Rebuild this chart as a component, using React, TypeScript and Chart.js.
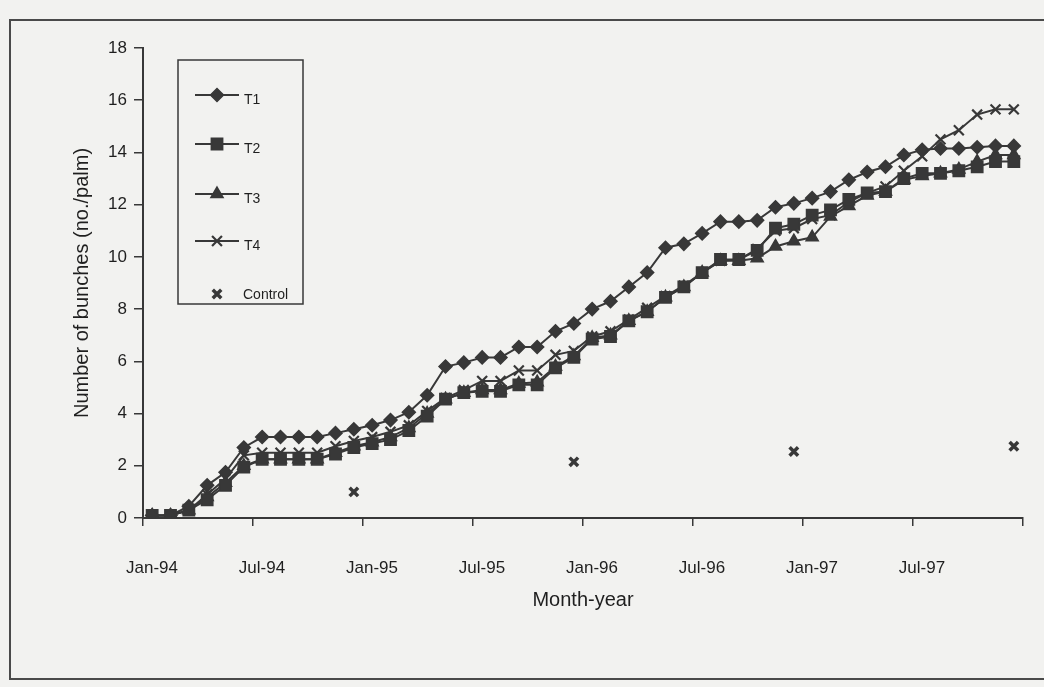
import React, { useEffect, useRef } from 'react';
import { Chart, registerables } from 'chart.js';
import { drawPoint } from 'chart.js/helpers';

Chart.register(...registerables);

// ---- data ----
const years = ['94', '95', '96', '97'];
const monthNames = ['Jan', 'Feb', 'Mar', 'Apr', 'May', 'Jun', 'Jul', 'Aug', 'Sep', 'Oct', 'Nov', 'Dec'];
const months: string[] = years.flatMap((y) => monthNames.map((m) => `${m}-${y}`));

const tickLabels = ['Jan-94', 'Jul-94', 'Jan-95', 'Jul-95', 'Jan-96', 'Jul-96', 'Jan-97', 'Jul-97', ''];

const t1 = [0.1, 0.1, 0.45, 1.25, 1.75, 2.7, 3.1, 3.1, 3.1, 3.1,
  3.25, 3.4, 3.55, 3.75, 4.05, 4.7, 5.8, 5.95, 6.15, 6.15,
  6.55, 6.55, 7.15, 7.45, 8.0, 8.3, 8.85, 9.4, 10.35, 10.5,
  10.9, 11.35, 11.35, 11.4, 11.9, 12.05, 12.25, 12.5, 12.95, 13.25,
  13.45, 13.9, 14.1, 14.15, 14.15, 14.2, 14.25, 14.25];

const t2 = [0.1, 0.1, 0.3, 0.7, 1.25, 1.95, 2.25, 2.25, 2.25, 2.25,
  2.45, 2.7, 2.85, 3.0, 3.35, 3.9, 4.55, 4.8, 4.85, 4.85,
  5.1, 5.1, 5.75, 6.15, 6.85, 6.95, 7.55, 7.9, 8.45, 8.85,
  9.4, 9.9, 9.9, 10.25, 11.1, 11.25, 11.6, 11.8, 12.2, 12.45,
  12.5, 13.0, 13.2, 13.2, 13.3, 13.45, 13.65, 13.65];

const t3 = [0.1, 0.1, 0.3, 0.8, 1.35, 2.0, 2.25, 2.25, 2.25, 2.25,
  2.5, 2.75, 2.9, 3.1, 3.45, 4.0, 4.55, 4.8, 4.9, 4.9,
  5.15, 5.2, 5.8, 6.2, 6.9, 7.0, 7.55, 7.9, 8.45, 8.85,
  9.4, 9.85, 9.85, 9.95, 10.4, 10.6, 10.75, 11.55, 11.95, 12.35,
  12.5, 12.95, 13.1, 13.2, 13.35, 13.65, 13.9, 13.9];

const t4 = [0.1, 0.1, 0.3, 0.9, 1.5, 2.4, 2.5, 2.5, 2.5, 2.5,
  2.75, 2.95, 3.1, 3.3, 3.55, 4.1, 4.6, 4.9, 5.25, 5.25,
  5.65, 5.65, 6.25, 6.4, 6.95, 7.15, 7.6, 8.05, 8.5, 8.9,
  9.4, 9.85, 9.9, 10.3, 11.0, 11.1, 11.45, 11.6, 12.1, 12.45,
  12.7, 13.3, 13.85, 14.5, 14.85, 15.45, 15.65, 15.65];

const controlMonths = ['Dec-94', 'Dec-95', 'Dec-96', 'Dec-97'];
const control = [1.0, 2.15, 2.55, 2.75];

const seriesNames = ['T1', 'T2', 'T3', 'T4', 'Control'];

// ---- helpers ----
const INK = '#383838';
const TEXT = '#1f1f1f';
const FONT = '"Liberation Sans", Arial, sans-serif';

const toPoints = (vals: number[]) => vals.map((v, i) => ({ x: i + 0.5, y: v }));

const legendPlugin = {
  id: 'boxLegend',
  afterDraw(chart: any) {
    const ctx = chart.ctx as CanvasRenderingContext2D;
    const { left, top } = chart.chartArea;
    const bx = left + 35;
    const by = top + 12;
    const bw = 125;
    const bh = 244;
    const rows = [35, 84, 134, 181, 234];
    ctx.save();
    ctx.strokeStyle = INK;
    ctx.lineWidth = 1.5;
    ctx.strokeRect(bx, by, bw, bh);
    chart.data.datasets.forEach((ds: any, i: number) => {
      const y = by + rows[i];
      const cx = bx + 39;
      if (ds.showLine !== false) {
        ctx.beginPath();
        ctx.strokeStyle = ds.borderColor;
        ctx.lineWidth = ds.borderWidth;
        ctx.moveTo(bx + 17, y);
        ctx.lineTo(bx + 61, y);
        ctx.stroke();
      }
      ctx.fillStyle = ds.pointBackgroundColor;
      ctx.strokeStyle = ds.pointBorderColor;
      ctx.lineWidth = ds.pointBorderWidth;
      drawPoint(ctx, { pointStyle: ds.pointStyle, radius: ds.pointRadius, borderWidth: ds.pointBorderWidth, rotation: 0 } as any, cx, y);
      ctx.fillStyle = TEXT;
      ctx.font = `14px ${FONT}`;
      ctx.textBaseline = 'middle';
      ctx.textAlign = 'left';
      const ty = ds.showLine !== false ? y + 5 : y + 1;
      ctx.fillText(ds.label, ds.showLine !== false ? bx + 66 : bx + 65, ty);
    });
    ctx.restore();
  },
};

export default function App() {
  const ref = useRef<HTMLCanvasElement | null>(null);

  useEffect(() => {
    if (!ref.current) return;
    const lineDs = (label: string, vals: number[], style: string, radius: number, pbw: number) => ({
      label,
      data: toPoints(vals),
      borderColor: INK,
      backgroundColor: INK,
      borderWidth: 2,
      pointStyle: style,
      pointRadius: radius,
      pointBackgroundColor: INK,
      pointBorderColor: INK,
      pointBorderWidth: pbw,
      showLine: true,
      tension: 0,
    });
    const chart = new Chart(ref.current, {
      type: 'scatter',
      data: {
        datasets: [
          lineDs(seriesNames[0], t1, 'rectRot', 6.5, 1.5),
          lineDs(seriesNames[1], t2, 'rect', 8, 1.5),
          lineDs(seriesNames[2], t3, 'triangle', 7, 1.5),
          lineDs(seriesNames[3], t4, 'crossRot', 7, 2.2),
          {
            label: seriesNames[4],
            data: controlMonths.map((m, k) => ({ x: months.indexOf(m) + 0.5, y: control[k] })),
            showLine: false,
            borderColor: INK,
            backgroundColor: INK,
            pointStyle: 'crossRot',
            pointRadius: 6,
            pointBackgroundColor: INK,
            pointBorderColor: INK,
            pointBorderWidth: 3.5,
          } as any,
        ],
      },
      options: {
        animation: false,
        responsive: false,
        layout: { padding: { top: 48, right: 21, left: 0, bottom: 0 } },
        plugins: { legend: { display: false }, tooltip: { enabled: false } },
        scales: {
          x: {
            type: 'linear',
            min: 0,
            max: 48,
            afterFit: (s: any) => { s.height = 169; s.paddingRight = 0; s.paddingLeft = 0; },
            afterBuildTicks: (s: any) => {
              s.ticks = tickLabels.map((_, k) => ({ value: k * 6 }));
            },
            ticks: {
              callback: (v: any) => tickLabels[Math.round(Number(v) / 6)] ?? '',
              font: { family: FONT, size: 17 },
              color: TEXT,
              padding: 32,
              labelOffset: 9,
              maxRotation: 0,
              autoSkip: false,
            },
            grid: { drawOnChartArea: false, drawTicks: true, tickLength: 8, color: INK, lineWidth: 1.5 },
            border: { color: INK, width: 2 },
            title: {
              display: true,
              text: 'Month-year',
              font: { family: FONT, size: 20 },
              color: TEXT,
              padding: { top: 0, bottom: 75 },
            },
          },
          y: {
            min: 0,
            max: 18,
            afterFit: (s: any) => { s.width = 143; },
            ticks: {
              stepSize: 2,
              font: { family: FONT, size: 17 },
              color: TEXT,
              padding: 7,
            },
            grid: { drawOnChartArea: false, drawTicks: true, tickLength: 9, color: INK, lineWidth: 1.5 },
            border: { color: INK, width: 2 },
            title: {
              display: true,
              text: 'Number of bunches (no./palm)',
              font: { family: FONT, size: 20 },
              color: TEXT,
              padding: { top: 70, bottom: 0 },
            },
          },
        },
      },
      plugins: [legendPlugin],
    } as any);
    return () => chart.destroy();
  }, []);

  return (
    <div style={{ position: 'fixed', left: 0, top: 0, width: 1044, height: 687, background: '#f2f2f0', overflow: 'hidden' }}>
      <div style={{ position: 'absolute', left: 9, top: 19, width: 1060, height: 657, borderTop: '2px solid #4a4a4a', borderLeft: '2px solid #4a4a4a', borderBottom: '2px solid #4a4a4a' }} />
      <canvas ref={ref} width={1044} height={687} style={{ position: 'absolute', left: 0, top: 0, width: 1044, height: 687 }} />
    </div>
  );
}
